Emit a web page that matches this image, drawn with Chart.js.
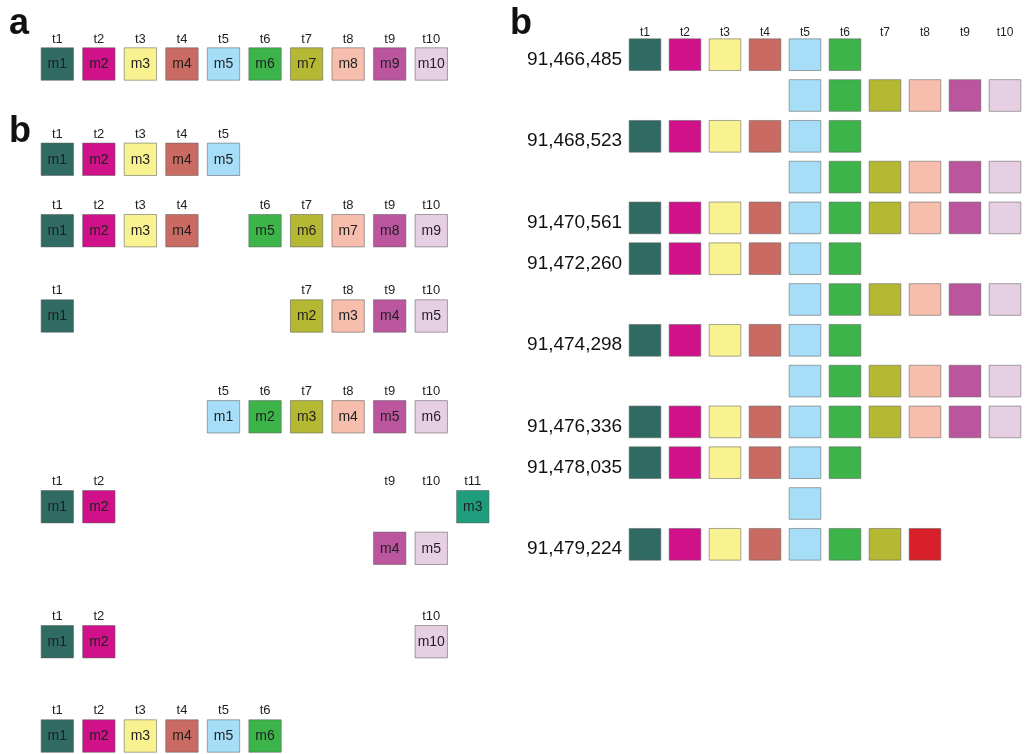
<!DOCTYPE html>
<html>
<head>
<meta charset="utf-8">
<title>Module tiles by time point</title>
<script src="https://cdn.jsdelivr.net/npm/chart.js@4.4.1/dist/chart.umd.min.js"></script>
<style>
  html, body { margin: 0; padding: 0; background: #ffffff; }
  #wrap { position: relative; width: 1035px; height: 754px; }
  canvas { display: block; }
</style>
</head>
<body>
<div id="wrap"><canvas id="tiles" width="1035" height="754"></canvas></div>
<script>
// ---------------- data ----------------
// Panel a: one module per time point
const aTimepoints = [1, 2, 3, 4, 5, 6, 7, 8, 9, 10];
const aModules = ['m1', 'm2', 'm3', 'm4', 'm5', 'm6', 'm7', 'm8', 'm9', 'm10'];

// Panel b (left): each row lists the time points that carry a tile and the module in it
const leftRowTimepoints = [
  [1, 2, 3, 4, 5],
  [1, 2, 3, 4, 6, 7, 8, 9, 10],
  [1, 7, 8, 9, 10],
  [5, 6, 7, 8, 9, 10],
  [1, 2, 11],
  [9, 10],
  [1, 2, 10],
  [1, 2, 3, 4, 5, 6]
];
const leftRowModules = [
  ['m1', 'm2', 'm3', 'm4', 'm5'],
  ['m1', 'm2', 'm3', 'm4', 'm5', 'm6', 'm7', 'm8', 'm9'],
  ['m1', 'm2', 'm3', 'm4', 'm5'],
  ['m1', 'm2', 'm3', 'm4', 'm5', 'm6'],
  ['m1', 'm2', 'm3'],
  ['m4', 'm5'],
  ['m1', 'm2', 'm10'],
  ['m1', 'm2', 'm3', 'm4', 'm5', 'm6']
];
// time point captions printed above each row
const leftRowHeaders = [
  [1, 2, 3, 4, 5],
  [1, 2, 3, 4, 6, 7, 8, 9, 10],
  [1, 7, 8, 9, 10],
  [5, 6, 7, 8, 9, 10],
  [1, 2, 9, 10, 11],
  [],
  [1, 2, 10],
  [1, 2, 3, 4, 5, 6]
];

// Panel b (right): genomic positions and the span of time points covered by each row
const rightPositions = ['91,466,485', '', '91,468,523', '', '91,470,561', '91,472,260', '',
                        '91,474,298', '', '91,476,336', '91,478,035', '', '91,479,224'];
const rightFirstTimepoint = [1, 5, 1, 5, 1, 1, 5, 1, 5, 1, 1, 5, 1];
const rightLastTimepoint  = [6, 10, 6, 10, 10, 6, 10, 6, 10, 10, 6, 5, 8];
const rightHeaders = [1, 2, 3, 4, 5, 6, 7, 8, 9, 10];
// tiles in the alternate state: [row, time point]
const rightVariantTiles = [[12, 8]];

// ---------------- styling & layout ----------------
const W = 1035, H = 754;
const timepointColours = {
  1: '#2f6b62', 2: '#d1118a', 3: '#f8f390', 4: '#c96b62', 5: '#a7def7',
  6: '#3db44a', 7: '#b5b833', 8: '#f7bead', 9: '#bb569e', 10: '#e7cfe3', 11: '#1e9c7c'
};
const variantColour = '#d7202a';
const tileBorder = 'rgba(95, 95, 95, 0.55)';
const FONT = '"Liberation Sans", Arial, Helvetica, sans-serif';

const LEFT_X0 = 57.3, LEFT_PITCH = 41.55;          // left half: column of t1 and column spacing
const A_Y0 = 64;                                    // panel a row centre
const LEFT_Y0 = 159.3, LEFT_UNIT = 41.6;            // panel b (left) first row and slot unit
const leftRowSlot = [0, 1.716, 3.767, 6.19, 8.351, 9.351, 11.596, 13.863];
const RIGHT_X0 = 645, RIGHT_PITCH = 40.0;
const RIGHT_Y0 = 54.7, RIGHT_ROW = 40.8;
const LEFT_RADIUS = 22.9, RIGHT_RADIUS = 22.4;      // 'rect' point side = sqrt(2) * radius

function linearRange(valueAtOrigin, originPx, pitch, span) {
  const min = valueAtOrigin - originPx / pitch;
  return { min: min, max: min + span / pitch };
}

// ---------------- datasets ----------------
const panelA = aTimepoints.map((t, i) => ({ x: t, y: 0, t: t, m: aModules[i] }));

const panelLeft = [];
leftRowTimepoints.forEach((row, r) => {
  row.forEach((t, i) => panelLeft.push({ x: t, y: leftRowSlot[r], t: t, m: leftRowModules[r][i] }));
});

const panelRight = [];
rightFirstTimepoint.forEach((first, r) => {
  for (let t = first; t <= rightLastTimepoint[r]; t++) {
    const variant = rightVariantTiles.some(v => v[0] === r && v[1] === t);
    panelRight.push({ x: t, y: r, t: t, variant: variant });
  }
});

const tileColour = p => (p.variant ? variantColour : timepointColours[p.t]);

function tileDataset(data, xId, yId, radius, withText) {
  return {
    data: data,
    xAxisID: xId,
    yAxisID: yId,
    pointStyle: 'rect',
    pointRadius: radius,
    pointHoverRadius: radius,
    pointBorderWidth: 1,
    pointHoverBorderWidth: 1,
    pointBackgroundColor: data.map(tileColour),
    pointHoverBackgroundColor: data.map(tileColour),
    pointBorderColor: tileBorder,
    pointHoverBorderColor: tileBorder,
    showLine: false,
    clip: false,
    tileText: withText
  };
}

// ---------------- text drawn from the scales ----------------
const tileText = {
  id: 'tileText',
  afterDatasetsDraw(chart) {
    const ctx = chart.ctx;
    const s = chart.scales;
    ctx.save();

    // module names inside tiles
    ctx.fillStyle = '#1f1f1f';
    ctx.font = '14px ' + FONT;
    ctx.textAlign = 'center';
    ctx.textBaseline = 'middle';
    chart.data.datasets.forEach((ds, di) => {
      if (!ds.tileText) return;
      chart.getDatasetMeta(di).data.forEach((el, i) => {
        ctx.fillText(ds.data[i].m, el.x, el.y + 0.5);
      });
    });

    // time point captions, left half
    const leftHalf = LEFT_RADIUS * Math.SQRT1_2;
    ctx.textBaseline = 'alphabetic';
    ctx.font = '13px ' + FONT;
    aTimepoints.forEach(t => {
      ctx.fillText('t' + t, s.xl.getPixelForValue(t), s.ya.getPixelForValue(0) - leftHalf - 4.5);
    });
    leftRowHeaders.forEach((row, r) => {
      const y = s.yl.getPixelForValue(leftRowSlot[r]) - leftHalf - 5.5;
      row.forEach(t => ctx.fillText('t' + t, s.xl.getPixelForValue(t), y));
    });

    // right half captions and positions
    const rightHalf = RIGHT_RADIUS * Math.SQRT1_2;
    ctx.font = '12px ' + FONT;
    rightHeaders.forEach(t => {
      ctx.fillText('t' + t, s.xr.getPixelForValue(t), s.yr.getPixelForValue(0) - rightHalf - 2.5);
    });
    ctx.font = '19px ' + FONT;
    ctx.fillStyle = '#111111';
    ctx.textAlign = 'right';
    rightPositions.forEach((label, r) => {
      if (!label) return;
      ctx.fillText(label, s.xr.getPixelForValue(1) - rightHalf - 7, s.yr.getPixelForValue(r) + 10);
    });

    // panel letters
    ctx.font = 'bold 36px ' + FONT;
    ctx.textAlign = 'left';
    ctx.fillStyle = '#111111';
    ctx.fillText('a', 9, 34);
    ctx.fillText('b', 9, 141.5);
    ctx.fillText('b', 510, 34.3);
    ctx.restore();
  }
};

new Chart(document.getElementById('tiles'), {
  type: 'scatter',
  data: {
    datasets: [
      tileDataset(panelA, 'xl', 'ya', LEFT_RADIUS, true),
      tileDataset(panelLeft, 'xl', 'yl', LEFT_RADIUS, true),
      tileDataset(panelRight, 'xr', 'yr', RIGHT_RADIUS, false)
    ]
  },
  options: {
    responsive: false,
    animation: false,
    events: [],
    layout: { padding: 0, autoPadding: false },
    plugins: { legend: { display: false }, tooltip: { enabled: false } },
    scales: {
      xl: Object.assign({ type: 'linear', axis: 'x', position: 'bottom', display: false, bounds: 'data' },
                        linearRange(1, LEFT_X0, LEFT_PITCH, W)),
      xr: Object.assign({ type: 'linear', axis: 'x', position: 'bottom', display: false, bounds: 'data' },
                        linearRange(1, RIGHT_X0, RIGHT_PITCH, W)),
      ya: Object.assign({ type: 'linear', axis: 'y', position: 'left', reverse: true, display: false, bounds: 'data' },
                        linearRange(0, A_Y0, LEFT_UNIT, H)),
      yl: Object.assign({ type: 'linear', axis: 'y', position: 'left', reverse: true, display: false, bounds: 'data' },
                        linearRange(0, LEFT_Y0, LEFT_UNIT, H)),
      yr: Object.assign({ type: 'linear', axis: 'y', position: 'left', reverse: true, display: false, bounds: 'data' },
                        linearRange(0, RIGHT_Y0, RIGHT_ROW, H))
    }
  },
  plugins: [tileText]
});
</script>
</body>
</html>
